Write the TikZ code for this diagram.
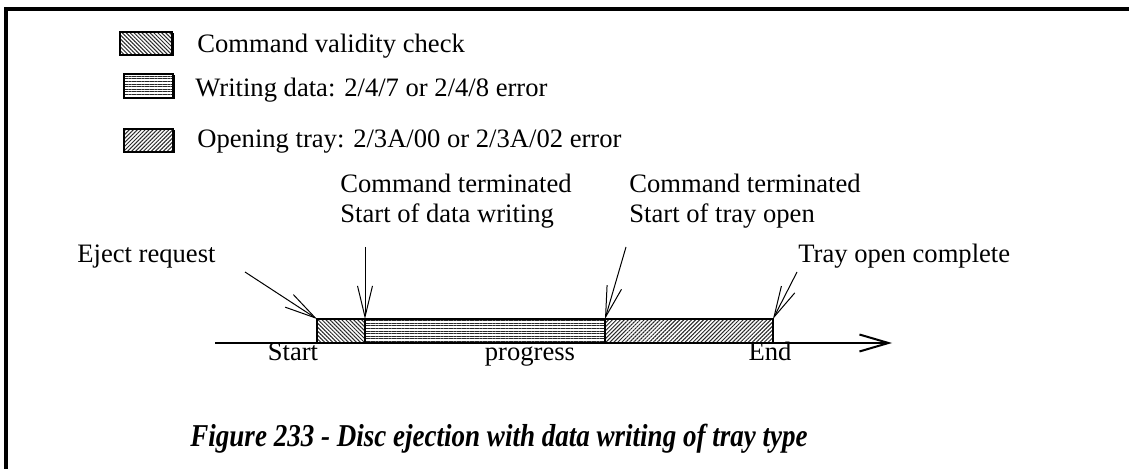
\documentclass[tikz,border=0pt]{standalone}
\usepackage{fontspec}
\setmainfont{Liberation Serif}
\usetikzlibrary{arrows.meta,patterns.meta}

\begin{document}
\begin{tikzpicture}[
  x=0.5pt,y=-0.5pt,
  font=\fontsize{13.3}{16}\selectfont,
  frame/.style={line width=2pt},
  cell/.style={draw=black, line width=1pt},
  chk/.style={cell, pattern={Lines[angle=-45,distance=1.4pt,line width=0.5pt]}, pattern color=black!85},
  wrt/.style={cell, pattern={Lines[angle=0,distance=1.3pt,line width=0.5pt]}, pattern color=black!85},
  opn/.style={cell, pattern={Lines[angle=45,distance=1.4pt,line width=0.5pt]}, pattern color=black!85},
  shadow/.style={fill=black},
  lbl/.style={anchor=base west, inner sep=0pt},
  tick/.style={anchor=base, inner sep=0pt},
  pointer/.style={-{Straight Barb[length=15.5pt,width=7.5pt]}, line width=0.5pt},
  timeaxis/.style={-{Straight Barb[length=14.5pt,width=8.5pt]}, line width=1pt},
  caption/.style={anchor=base west, inner sep=0pt, font=\fontsize{15.9}{19}\selectfont\bfseries\itshape}
]
\path[use as bounding box] (0,0) rectangle (1129,469);

% Frame (top and left edges only)
\draw[frame] (6,469) -- (6,9) -- (1129,9);

% Legend
\fill[shadow] (121.5,33.5) rectangle (173.5,56.5);
\fill[white] (120,32) rectangle (172,55);
\draw[chk] (120,32) rectangle (172,55);
\node[lbl] (legchk) at (197,53) {Command validity check};

\fill[shadow] (125.5,75.5) rectangle (174.5,99.5);
\fill[white] (124,74) rectangle (173,98);
\draw[wrt] (124,74) rectangle (173,98);
\node[lbl] (legwrt) at (195,97) {Writing data: 2/4/7 or 2/4/8 error};

\fill[shadow] (125.5,130.5) rectangle (174.5,153.5);
\fill[white] (124,129) rectangle (173,152);
\draw[opn] (124,129) rectangle (173,152);
\node[lbl] (legopn) at (197,148) {Opening tray: 2/3A/00 or 2/3A/02 error};

% Time line
\coordinate (tstart) at (317,319);
\coordinate (tdata)  at (365,319);
\coordinate (ttray)  at (605,319);
\coordinate (tend)   at (773,319);
\coordinate (axl) at (215,343);
\coordinate (axr) at (892,343);

\draw[chk] (tstart) rectangle (365,343);
\draw[wrt] (tdata) rectangle (605,343);
\draw[opn] (ttray) rectangle (773,343);
\draw[timeaxis] (axl) -- (axr);

\node[tick] (lstart) at (293,361) {Start};
\node[tick] (lprog) at (530,361) {progress};
\node[tick] (lend) at (770,361) {End};

% Event labels
\node[lbl] (ejreq) at (77,263) {Eject request};
\node[lbl] (cmdone) at (340,193) {Command terminated};
\node[lbl] (wrstart) at (340,223) {Start of data writing};
\node[lbl] (cmdtwo) at (629,193) {Command terminated};
\node[lbl] (trstart) at (629,223) {Start of tray open};
\node[lbl] (trdone) at (798,263) {Tray open complete};

\coordinate (ejtail) at (245,272);
\coordinate (wrtail) at (365,247);
\coordinate (trtail) at (626,247);
\coordinate (dntail) at (797,272);

\draw[pointer] (ejtail) -- (tstart);
\draw[pointer] (wrtail) -- (tdata);
\draw[pointer] (trtail) -- (ttray);
\draw[pointer] (dntail) -- (tend);

% Caption
\node[caption] (fig) at (190,447) {\scalebox{0.85}[1]{Figure 233 - Disc ejection with data writing of tray type}};

\end{tikzpicture}
\end{document}
